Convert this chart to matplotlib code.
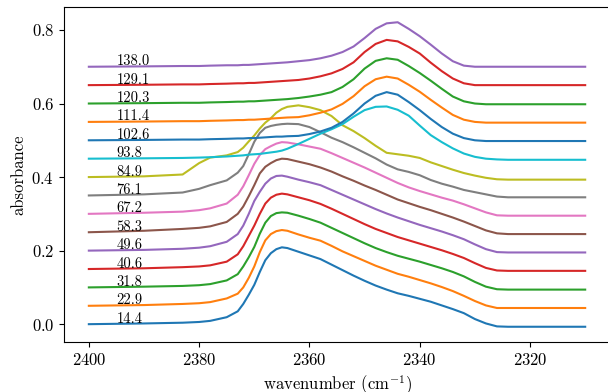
import matplotlib
matplotlib.use("Agg")
import numpy as np
import matplotlib.pyplot as plt

plt.rcParams["font.family"] = "serif"
plt.rcParams["font.serif"] = ["cmr10"]
plt.rcParams["mathtext.fontset"] = "cm"
plt.rcParams["axes.formatter.use_mathtext"] = True

# wavenumber grid (cm^-1) shared by all spectra
wavenumber = [2400, 2390, 2383, 2380, 2378, 2375, 2373, 2372, 2371, 2370,
              2369, 2368, 2367, 2366, 2365, 2364, 2362, 2360, 2358, 2356,
              2354, 2352, 2350, 2348, 2346, 2344, 2342, 2340, 2338, 2336,
              2334, 2332, 2330, 2328, 2326, 2324, 2320, 2310]

labels = ["14.4", "22.9", "31.8", "40.6", "49.6", "58.3", "67.2", "76.1",
          "84.9", "93.8", "102.6", "111.4", "120.3", "129.1", "138.0"]

# absorbance (before stacking offset)
a_14_4 = [0.000, 0.002, 0.004, 0.006, 0.009, 0.019, 0.035, 0.055, 0.080, 0.107,
          0.142, 0.174, 0.193, 0.204, 0.209, 0.207, 0.197, 0.187, 0.177, 0.162,
          0.147, 0.132, 0.118, 0.105, 0.094, 0.084, 0.077, 0.069, 0.061, 0.051,
          0.041, 0.030, 0.014, 0.002, -0.006, -0.007, -0.007, -0.007]
a_22_9 = [0.000, 0.002, 0.005, 0.007, 0.010, 0.020, 0.033, 0.050, 0.076, 0.107,
          0.146, 0.178, 0.195, 0.203, 0.206, 0.204, 0.194, 0.185, 0.177, 0.163,
          0.148, 0.135, 0.122, 0.109, 0.098, 0.087, 0.079, 0.070, 0.061, 0.051,
          0.040, 0.027, 0.013, 0.001, -0.006, -0.006, -0.006, -0.006]
a_31_8 = [0.000, 0.002, 0.004, 0.006, 0.009, 0.019, 0.036, 0.057, 0.082, 0.110,
          0.146, 0.176, 0.194, 0.202, 0.204, 0.203, 0.195, 0.186, 0.176, 0.162,
          0.148, 0.134, 0.120, 0.107, 0.096, 0.086, 0.078, 0.070, 0.061, 0.052,
          0.042, 0.030, 0.015, 0.002, -0.005, -0.006, -0.006, -0.006]
a_40_6 = [0.000, 0.002, 0.005, 0.007, 0.010, 0.020, 0.040, 0.062, 0.090, 0.118,
          0.150, 0.178, 0.194, 0.202, 0.205, 0.203, 0.195, 0.187, 0.177, 0.164,
          0.150, 0.136, 0.122, 0.109, 0.098, 0.087, 0.078, 0.069, 0.060, 0.051,
          0.041, 0.030, 0.016, 0.003, -0.004, -0.005, -0.005, -0.005]
a_49_6 = [0.000, 0.002, 0.005, 0.008, 0.012, 0.024, 0.045, 0.068, 0.100, 0.135,
          0.160, 0.182, 0.196, 0.203, 0.204, 0.201, 0.193, 0.186, 0.178, 0.165,
          0.152, 0.139, 0.126, 0.113, 0.101, 0.090, 0.080, 0.070, 0.061, 0.052,
          0.042, 0.031, 0.017, 0.004, -0.004, -0.005, -0.005, -0.005]
a_58_3 = [0.000, 0.004, 0.009, 0.012, 0.016, 0.028, 0.050, 0.070, 0.098, 0.128,
          0.160, 0.178, 0.188, 0.196, 0.200, 0.199, 0.192, 0.185, 0.176, 0.165,
          0.152, 0.140, 0.127, 0.115, 0.102, 0.089, 0.079, 0.069, 0.060, 0.050,
          0.040, 0.029, 0.017, 0.005, -0.003, -0.005, -0.005, -0.005]
a_67_2 = [0.000, 0.003, 0.006, 0.010, 0.015, 0.028, 0.052, 0.075, 0.105, 0.136,
          0.160, 0.176, 0.184, 0.191, 0.195, 0.194, 0.189, 0.183, 0.177, 0.165,
          0.152, 0.139, 0.126, 0.112, 0.098, 0.084, 0.072, 0.062, 0.053, 0.044,
          0.036, 0.026, 0.015, 0.004, -0.004, -0.005, -0.005, -0.005]
a_76_1 = [0.000, 0.003, 0.008, 0.018, 0.028, 0.041, 0.062, 0.080, 0.112, 0.146,
          0.170, 0.184, 0.189, 0.192, 0.194, 0.195, 0.194, 0.186, 0.172, 0.157,
          0.145, 0.131, 0.116, 0.101, 0.084, 0.071, 0.064, 0.055, 0.042, 0.032,
          0.024, 0.015, 0.009, 0.003, -0.003, -0.005, -0.005, -0.005]
a_84_9 = [0.000, 0.002, 0.007, 0.038, 0.053, 0.059, 0.068, 0.080, 0.097, 0.113,
          0.132, 0.148, 0.160, 0.175, 0.185, 0.191, 0.195, 0.190, 0.182, 0.166,
          0.141, 0.125, 0.106, 0.085, 0.066, 0.062, 0.058, 0.052, 0.040, 0.030,
          0.020, 0.011, 0.004, -0.002, -0.006, -0.007, -0.007, -0.007]
a_93_8 = [0.000, 0.001, 0.002, 0.003, 0.004, 0.006, 0.008, 0.009, 0.011, 0.012,
          0.013, 0.015, 0.017, 0.019, 0.022, 0.027, 0.040, 0.054, 0.068, 0.080,
          0.094, 0.114, 0.132, 0.141, 0.142, 0.133, 0.117, 0.090, 0.064, 0.045,
          0.028, 0.014, 0.005, 0.000, -0.002, -0.003, -0.003, -0.003]
a_102_6 = [0.000, 0.001, 0.002, 0.002, 0.003, 0.004, 0.005, 0.005, 0.006, 0.006,
           0.007, 0.008, 0.009, 0.010, 0.010, 0.011, 0.012, 0.017, 0.024, 0.034,
           0.050, 0.073, 0.100, 0.121, 0.131, 0.124, 0.104, 0.082, 0.058, 0.036,
           0.018, 0.006, 0.000, -0.002, -0.002, -0.002, -0.002, -0.002]
a_111_4 = [0.000, 0.001, 0.002, 0.002, 0.003, 0.004, 0.005, 0.005, 0.006, 0.006,
           0.007, 0.008, 0.009, 0.010, 0.011, 0.012, 0.013, 0.018, 0.025, 0.034,
           0.049, 0.070, 0.097, 0.116, 0.123, 0.118, 0.101, 0.082, 0.060, 0.039,
           0.019, 0.006, 0.000, -0.002, -0.002, -0.002, -0.002, -0.002]
a_120_3 = [0.000, 0.001, 0.002, 0.002, 0.003, 0.004, 0.005, 0.005, 0.006, 0.006,
           0.007, 0.008, 0.009, 0.010, 0.011, 0.012, 0.015, 0.019, 0.024, 0.031,
           0.045, 0.066, 0.095, 0.116, 0.123, 0.119, 0.102, 0.083, 0.062, 0.040,
           0.019, 0.006, 0.000, -0.002, -0.002, -0.002, -0.002, -0.002]
a_129_1 = [0.000, 0.001, 0.002, 0.002, 0.003, 0.004, 0.005, 0.005, 0.006, 0.006,
           0.007, 0.008, 0.009, 0.010, 0.011, 0.012, 0.014, 0.018, 0.024, 0.032,
           0.044, 0.062, 0.090, 0.112, 0.123, 0.119, 0.104, 0.086, 0.061, 0.038,
           0.018, 0.005, 0.000, 0.000, 0.000, 0.000, 0.000, 0.000]
a_138_0 = [0.000, 0.001, 0.002, 0.002, 0.003, 0.004, 0.004, 0.005, 0.005, 0.006,
           0.007, 0.008, 0.009, 0.010, 0.011, 0.012, 0.015, 0.018, 0.023, 0.030,
           0.040, 0.055, 0.078, 0.103, 0.118, 0.121, 0.103, 0.083, 0.060, 0.036,
           0.015, 0.003, 0.000, 0.000, 0.000, 0.000, 0.000, 0.000]

spectra = [a_14_4, a_22_9, a_31_8, a_40_6, a_49_6, a_58_3, a_67_2, a_76_1,
           a_84_9, a_93_8, a_102_6, a_111_4, a_120_3, a_129_1, a_138_0]

OFFSET = 0.05

fig = plt.figure(figsize=(6.08, 3.92), dpi=100)
ax = fig.add_axes([0.1053, 0.1276, 0.898, 0.8545])

wn = np.array(wavenumber)
for i, (spec, lab) in enumerate(zip(spectra, labels)):
    ax.plot(wn, np.array(spec) + OFFSET * i, linewidth=1.5)
    ax.text(2395, OFFSET * i + 0.004, lab, fontsize=10.5, va="baseline", ha="left")

ax.invert_xaxis()
ax.set_xticks([2400, 2380, 2360, 2340, 2320])
ax.set_yticks([0.0, 0.2, 0.4, 0.6, 0.8])
ax.tick_params(labelsize=12)
ax.set_xlabel(r"wavenumber (cm$^{-1}$)", fontsize=12)
ax.set_ylabel("absorbance", fontsize=12)

fig.savefig("out.png", dpi=100)
